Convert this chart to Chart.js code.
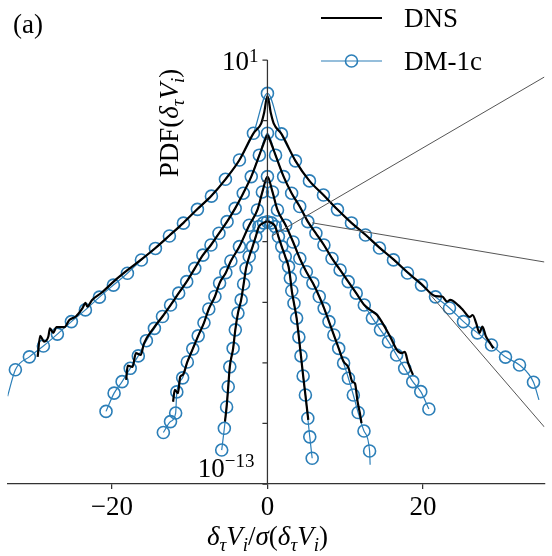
<!DOCTYPE html>
<html lang="en">
<head>
<meta charset="UTF-8">
<title>PDF(δτVi) – DNS vs DM-1c</title>
<style>
  body { margin: 0; background: #fff; }
  #wrap { width: 552px; height: 556px; }
</style>
</head>
<body>
<div id="wrap"><canvas id="pdfChart" width="552" height="556"></canvas></div>
<script src="https://cdn.jsdelivr.net/npm/chart.js"></script>
<script>
// axes
const xMin = -33.4, xMax = 35.6;
const yMin = 1e-13, yMax = 1e1;
const xTicks = [-20, 0, 20];
const yTicks = [1e1, 1e-1, 1e-3, 1e-5, 1e-7, 1e-9, 1e-11, 1e-13];

// DNS (black lines), four time lags, widest first
const dnsA_x = [-29.54, -29.21, -28.71, -28.16, -27.96, -27.54, -27.13, -26.09, -25.46, -24.63, -23.79, -23.38, -23.16, -22.54, -21.29, -19.63, -17.96,
  -16.2, -14.4, -12.6, -10.8, -9.0, -7.2, -5.4, -3.6, -1.8, -0.8, -0.45, 0, 0.45, 0.8, 1.8, 3.6, 5.4, 7.2, 9.0, 10.8, 12.6, 14.4, 16.2, 18.0, 19.8, 21.6,
  22.46, 23.09, 23.5, 24.5, 25.13, 26.0, 26.38, 26.84, 27.25, 27.63, 28.09, 28.63, 29.04];
const dnsA_y = [1.58e-9, 7.8e-9, 5.0e-9, 7.4e-9, 1.38e-8, 9.8e-9, 1.51e-8, 1.51e-8, 2.6e-8, 3.4e-8, 6.3e-8, 9.5e-8, 7.2e-8, 1.2e-7, 2.1e-7, 5.2e-7, 1.17e-6,
  2.6e-6, 6.2e-6, 1.6e-5, 4.2e-5, 1.2e-4, 3.3e-4, 1.15e-3, 5.0e-3, 0.038, 0.081, 0.17, 0.65, 0.17, 0.081, 0.0363, 4.68e-3, 1.02e-3, 3.47e-4, 1.15e-4, 4.2e-5, 1.7e-5, 6.4e-6, 2.6e-6, 9.8e-7, 4.0e-7, 1.6e-7,
  1.55e-7, 1.05e-7, 1.2e-7, 8.1e-8, 5.6e-8, 3.3e-8, 3.8e-8, 2.0e-8, 9.8e-9, 1.58e-8, 7.4e-9, 4.5e-9, 3.0e-9];

const dnsB_x = [-18.16, -17.96, -17.34, -16.91, -16.29, -15.88, -14.63, -13.49, -12.45, -11.41, -10.38, -9.34, -8.3, -7.26, -6.23, -5.19, -4.15, -3.11, -2.08, -1.04,
  -0.4, 0, 0.4, 1.04, 2.08, 3.11, 4.15, 5.19, 6.23, 7.26, 8.3, 9.34, 10.38, 11.41, 12.45, 13.49, 14.1, 15.79, 16.63, 17.25, 17.66, 18.09, 18.71];
const dnsB_y = [2.75e-10, 8.1e-10, 7.4e-10, 2.1e-9, 1.82e-9, 4.3e-9, 1.41e-8, 3.4e-8, 8.1e-8, 2.0e-7, 4.8e-7, 1.32e-6, 3.6e-6, 7.8e-6, 1.9e-5, 4.6e-5, 1.26e-4, 4.0e-4, 1.41e-3, 7.2e-3,
  0.02, 0.033, 0.02, 7.2e-3, 1.41e-3, 4.0e-4, 1.45e-4, 4.6e-5, 1.9e-5, 7.8e-6, 2.8e-6, 1.17e-6, 4.8e-7, 2.0e-7, 8.1e-8, 5.0e-8, 3.8e-8, 7.2e-9, 2.7e-9, 2.1e-9, 2.3e-9, 9.8e-10, 4.0e-10];

const dnsC_x = [-12.13, -11.91, -11.5, -11.21, -10.88, -10.3, -9.6, -8.9, -8.16, -7.54, -6.75, -6.15, -5.35, -4.7, -3.6, -2.34, -1.29, -0.65, 0,
  0.65, 1.29, 2.34, 3.3, 4.16, 5.0, 5.84, 6.66, 7.29, 7.91, 8.54, 9.16, 9.79, 10.41, 10.91, 11.25, 11.59, 11.88, 12.09];
const dnsC_y = [5.2e-11, 1.29e-10, 1.0e-10, 3.5e-10, 4.0e-10, 1.07e-9, 2.9e-9, 7.8e-9, 2.1e-8, 6.0e-8, 1.55e-7, 4.3e-7, 9.5e-7, 2.3e-6, 6.9e-6, 3.5e-5, 1.12e-4, 4.4e-4, 1.41e-3,
  4.4e-4, 1.12e-4, 3.5e-5, 9.8e-6, 2.8e-6, 1.02e-6, 4.3e-7, 1.55e-7, 6.3e-8, 2.3e-8, 8.3e-9, 3.0e-9, 1.1e-9, 7.0e-10, 2.4e-10, 2.1e-10, 5.2e-11, 2.2e-11, 1.02e-11];

const dnsD_x = [-5.46, -5.25, -5.04, -4.84, -4.41, -4.13, -3.79, -3.38, -3.06, -2.75, -2.34, -1.91, -1.5, -1.09, -0.5, 0,
  0.5, 1.0, 1.41, 1.84, 2.29, 2.71, 2.94, 3.13, 3.41, 3.75, 4.04, 4.31, 4.59, 4.88, 5.25];
const dnsD_y = [1.15e-11, 3.5e-11, 1.62e-10, 7.4e-10, 3.0e-9, 1.23e-8, 4.4e-8, 1.2e-7, 4.0e-7, 1.32e-6, 3.24e-6, 6.9e-6, 1.48e-5, 3.16e-5, 4.2e-5, 4.7e-5,
  4.2e-5, 3.16e-5, 1.48e-5, 6.9e-6, 3.24e-6, 1.51e-6, 6.3e-7, 2.4e-7, 9.3e-8, 3.0e-8, 7.1e-9, 1.7e-9, 3.7e-10, 8.7e-11, 1.3e-11];

// DM-1c (blue circles); *_endX / *_endY are line ends drawn without a marker
const dmA_x = [-32.4, -30.6, -28.8, -27.0, -25.2, -23.4, -21.6, -19.8, -18.0, -16.2, -14.4, -12.6, -10.8, -9.0, -7.2, -5.4, -3.6, -1.8, 0,
  1.8, 3.6, 5.4, 7.2, 9.0, 10.8, 12.6, 14.4, 16.2, 18.0, 19.8, 21.6, 23.4, 25.2, 27.0, 28.8, 30.6, 32.4, 34.2];
const dmA_y = [5.9e-10, 1.58e-9, 3.6e-9, 8.9e-9, 2.3e-8, 5.6e-8, 1.48e-7, 3.7e-7, 9.1e-7, 2.5e-6, 6.0e-6, 1.55e-5, 4.1e-5, 1.17e-4, 3.2e-4, 1.15e-3, 5.0e-3, 0.038, 0.79,
  0.0363, 4.68e-3, 1.02e-3, 3.47e-4, 1.15e-4, 4.17e-5, 1.66e-5, 6.17e-6, 2.51e-6, 9.3e-7, 3.7e-7, 1.51e-7, 6.5e-8, 2.3e-8, 9.8e-9, 3.9e-9, 1.55e-9, 8.5e-10, 2.3e-10];
const dmA_endX = [-33.4, 34.9];
const dmA_endY = [7.9e-11, 6.0e-11];

const dmB_x = [-20.75, -19.71, -18.68, -17.64, -16.6, -15.56, -14.53, -13.49, -12.45, -11.41, -10.38, -9.34, -8.3, -7.26, -6.23, -5.19, -4.15, -3.11, -2.08, -1.04, 0,
  1.04, 2.08, 3.11, 4.15, 5.19, 6.23, 7.26, 8.3, 9.34, 10.38, 11.41, 12.45, 13.49, 14.53, 15.56, 16.6, 17.64, 18.68, 19.71, 20.75];
const dmB_y = [2.5e-11, 1.0e-10, 2.4e-10, 6.6e-10, 1.7e-9, 5.4e-9, 1.38e-8, 3.4e-8, 8.1e-8, 2.0e-7, 4.8e-7, 1.32e-6, 3.6e-6, 7.8e-6, 1.9e-5, 4.6e-5, 1.26e-4, 4.0e-4, 1.41e-3, 7.2e-3, 0.038,
  7.2e-3, 1.41e-3, 4.0e-4, 1.45e-4, 4.6e-5, 1.9e-5, 7.8e-6, 2.8e-6, 1.17e-6, 4.8e-7, 2.0e-7, 8.1e-8, 3.0e-8, 1.23e-8, 5.0e-9, 1.82e-9, 6.6e-10, 2.4e-10, 1.12e-10, 3.0e-11];
const dmB_endX = [];
const dmB_endY = [];

const dmC_x = [-13.38, -12.46, -11.8, -11.65, -10.9, -10.3, -9.6, -8.9, -8.16, -7.54, -6.75, -6.15, -5.35, -4.7, -3.6, -2.34, -1.29, -0.65, 0,
  0.65, 1.29, 2.34, 3.3, 4.16, 5.0, 5.84, 6.66, 7.29, 7.91, 8.54, 9.16, 9.79, 10.41, 11.04, 11.66, 12.41, 13.13];
const dmC_y = [5.0e-12, 1.15e-11, 2.2e-11, 1.1e-10, 3.2e-10, 1.07e-9, 2.9e-9, 7.8e-9, 2.1e-8, 6.0e-8, 1.55e-7, 4.3e-7, 9.5e-7, 2.3e-6, 6.9e-6, 3.5e-5, 1.12e-4, 4.4e-4, 1.41e-3,
  4.4e-4, 1.12e-4, 3.5e-5, 9.8e-6, 2.8e-6, 1.02e-6, 4.3e-7, 1.55e-7, 6.3e-8, 2.3e-8, 8.3e-9, 3.0e-9, 9.8e-10, 3.1e-10, 8.7e-11, 2.3e-11, 5.6e-12, 1.23e-12];
const dmC_endX = [13.2];
const dmC_endY = [4.3e-13];

const dmD_x = [-5.88, -5.54, -5.25, -5.04, -4.84, -4.41, -4.13, -3.79, -3.38, -3.06, -2.75, -2.34, -1.91, -1.5, -1.09, -0.5, 0,
  0.5, 1.0, 1.41, 1.84, 2.29, 2.71, 2.94, 3.13, 3.41, 3.75, 4.04, 4.31, 4.59, 4.88, 5.19, 5.44, 5.75];
const dmD_y = [1.32e-12, 6.9e-12, 3.5e-11, 1.62e-10, 7.4e-10, 3.0e-9, 1.23e-8, 4.4e-8, 1.2e-7, 4.0e-7, 1.32e-6, 3.24e-6, 6.9e-6, 1.48e-5, 3.16e-5, 4.2e-5, 4.57e-5,
  4.2e-5, 3.16e-5, 1.48e-5, 6.9e-6, 3.24e-6, 1.51e-6, 6.3e-7, 2.4e-7, 9.3e-8, 3.0e-8, 7.1e-9, 1.7e-9, 3.7e-10, 8.7e-11, 1.48e-11, 3.6e-12, 7.1e-13];
const dmD_endX = [];
const dmD_endY = [];

// connector lines towards the zoomed inset (start, end)
const insetX = [[0.59, 35.6], [5.75, 35.6], [20.63, 35.6]];
const insetY = [[1.55e-5, 2.75], [4.2e-5, 2.14e-6], [2.2e-7, 7.6e-12]];

const BLUE = '#2c7fb8';
const AXIS = '#333';
const SERIF = '"Liberation Serif", "Times New Roman", serif';

function pts(xs, ys, mark) {
  return xs.map((x, i) => ({ x: x, y: ys[i], m: mark }));
}

function dnsSet(xs, ys) {
  return {
    data: pts(xs, ys, false),
    borderColor: '#000',
    borderWidth: 2.2,
    pointRadius: 0,
    cubicInterpolationMode: 'monotone'
  };
}

function dmSet(xs, ys, ex, ey) {
  const data = pts(xs, ys, true).concat(pts(ex, ey, false)).sort((a, b) => a.x - b.x);
  return {
    data: data,
    borderColor: BLUE,
    borderWidth: 1.2,
    pointRadius: c => (c.raw && c.raw.m ? 6 : 0),
    pointBorderWidth: 1.6,
    pointBorderColor: BLUE,
    pointBackgroundColor: 'rgba(0,0,0,0)',
    cubicInterpolationMode: 'monotone'
  };
}

const datasets = [];
// inset connectors (drawn on top)
insetX.forEach((xs, i) => {
  datasets.push({ data: pts(xs, insetY[i], false), borderColor: '#555', borderWidth: 1, pointRadius: 0 });
});
datasets.push(dnsSet(dnsA_x, dnsA_y), dnsSet(dnsB_x, dnsB_y), dnsSet(dnsC_x, dnsC_y), dnsSet(dnsD_x, dnsD_y));
datasets.push(dmSet(dmA_x, dmA_y, dmA_endX, dmA_endY), dmSet(dmB_x, dmB_y, dmB_endX, dmB_endY),
              dmSet(dmC_x, dmC_y, dmC_endX, dmC_endY), dmSet(dmD_x, dmD_y, dmD_endX, dmD_endY));

// text with sub/superscripts, parts: [text, italic, 'sub'|'sup'|'']
function runWidth(ctx, parts, big, small) {
  let w = 0;
  parts.forEach(p => {
    ctx.font = (p[1] ? 'italic ' : '') + (p[2] ? small : big) + 'px ' + SERIF;
    w += ctx.measureText(p[0]).width;
  });
  return w;
}
function drawRun(ctx, parts, x, y, big, small, subOff, supOff) {
  let cx = x;
  parts.forEach(p => {
    ctx.font = (p[1] ? 'italic ' : '') + (p[2] ? small : big) + 'px ' + SERIF;
    const dy = p[2] === 'sub' ? subOff : (p[2] === 'sup' ? supOff : 0);
    ctx.fillText(p[0], cx, y + dy);
    cx += ctx.measureText(p[0]).width;
  });
}

const xTitle = [['δ', 1, ''], ['τ', 1, 'sub'], ['V', 1, ''], ['i', 1, 'sub'], ['/', 0, ''], ['σ', 1, ''], ['(', 0, ''],
                ['δ', 1, ''], ['τ', 1, 'sub'], ['V', 1, ''], ['i', 1, 'sub'], [')', 0, '']];
const yTitle = [['PDF(', 0, ''], ['δ', 1, ''], ['τ', 1, 'sub'], ['V', 1, ''], ['i', 1, 'sub'], [')', 0, '']];

const decor = {
  id: 'decor',
  afterDraw(chart) {
    const ctx = chart.ctx;
    const xs = chart.scales.x, ys = chart.scales.y;
    const x0 = xs.getPixelForValue(0);
    ctx.save();
    // y spine at x = 0 with outward ticks
    ctx.strokeStyle = AXIS;
    ctx.lineWidth = 1.25;
    ctx.beginPath();
    ctx.moveTo(x0, ys.getPixelForValue(yMax));
    ctx.lineTo(x0, chart.chartArea.bottom);
    yTicks.forEach(v => {
      const py = ys.getPixelForValue(v);
      ctx.moveTo(x0 - 5, py);
      ctx.lineTo(x0, py);
    });
    ctx.stroke();

    ctx.fillStyle = '#000';
    ctx.textBaseline = 'alphabetic';
    ctx.textAlign = 'left';
    // end labels of the y axis
    const top = [['10', 0, ''], ['1', 0, 'sup']];
    const bot = [['10', 0, ''], ['\u221213', 0, 'sup']];
    drawRun(ctx, top, x0 - 9 - runWidth(ctx, top, 27, 19), ys.getPixelForValue(yMax) + 10, 27, 19, 7, -8);
    drawRun(ctx, bot, x0 - 13 - runWidth(ctx, bot, 27, 19), chart.chartArea.bottom - 7, 27, 19, 7, -10);

    // axis titles
    const xw = runWidth(ctx, xTitle, 27, 19);
    drawRun(ctx, xTitle, x0 - xw / 2, 545, 27, 19, 6, -10);
    ctx.save();
    ctx.translate(178, 123);
    ctx.rotate(-Math.PI / 2);
    const yw = runWidth(ctx, yTitle, 27, 19);
    drawRun(ctx, yTitle, -yw / 2, 0, 27, 19, 6, -10);
    ctx.restore();

    // panel label
    ctx.font = '27px ' + SERIF;
    ctx.fillText('(a)', 13, 33);

    // legend
    ctx.strokeStyle = '#000';
    ctx.lineWidth = 2.2;
    ctx.beginPath();
    ctx.moveTo(321, 18); ctx.lineTo(382, 18);
    ctx.stroke();
    ctx.strokeStyle = BLUE;
    ctx.lineWidth = 1.2;
    ctx.beginPath();
    ctx.moveTo(321, 61); ctx.lineTo(382, 61);
    ctx.stroke();
    ctx.lineWidth = 1.6;
    ctx.beginPath();
    ctx.arc(351.5, 61, 6, 0, Math.PI * 2);
    ctx.stroke();
    ctx.fillText('DNS', 404, 27);
    ctx.fillText('DM-1c', 404, 70);
    ctx.restore();
  }
};

new Chart(document.getElementById('pdfChart'), {
  type: 'line',
  data: { datasets: datasets },
  options: {
    responsive: false,
    animation: false,
    parsing: { xAxisKey: 'x', yAxisKey: 'y' },
    layout: { padding: { top: 60, left: 0, right: 0, bottom: 0 } },
    plugins: { legend: { display: false }, tooltip: { enabled: false } },
    scales: {
      x: {
        type: 'linear',
        min: xMin,
        max: xMax,
        afterBuildTicks: s => { s.ticks = xTicks.map(v => ({ value: v })); },
        afterFit: s => { s.height = 72; },
        grid: { drawOnChartArea: false, tickLength: 5, color: AXIS, lineWidth: 1.25 },
        border: { color: AXIS, width: 1.25 },
        ticks: {
          color: '#000',
          padding: 3,
          maxRotation: 0,
          font: { family: SERIF, size: 27 },
          callback: v => String(v).replace('-', '\u2212')
        }
      },
      y: {
        type: 'logarithmic',
        min: yMin,
        max: yMax,
        display: false
      }
    }
  },
  plugins: [decor]
});
</script>
</body>
</html>
